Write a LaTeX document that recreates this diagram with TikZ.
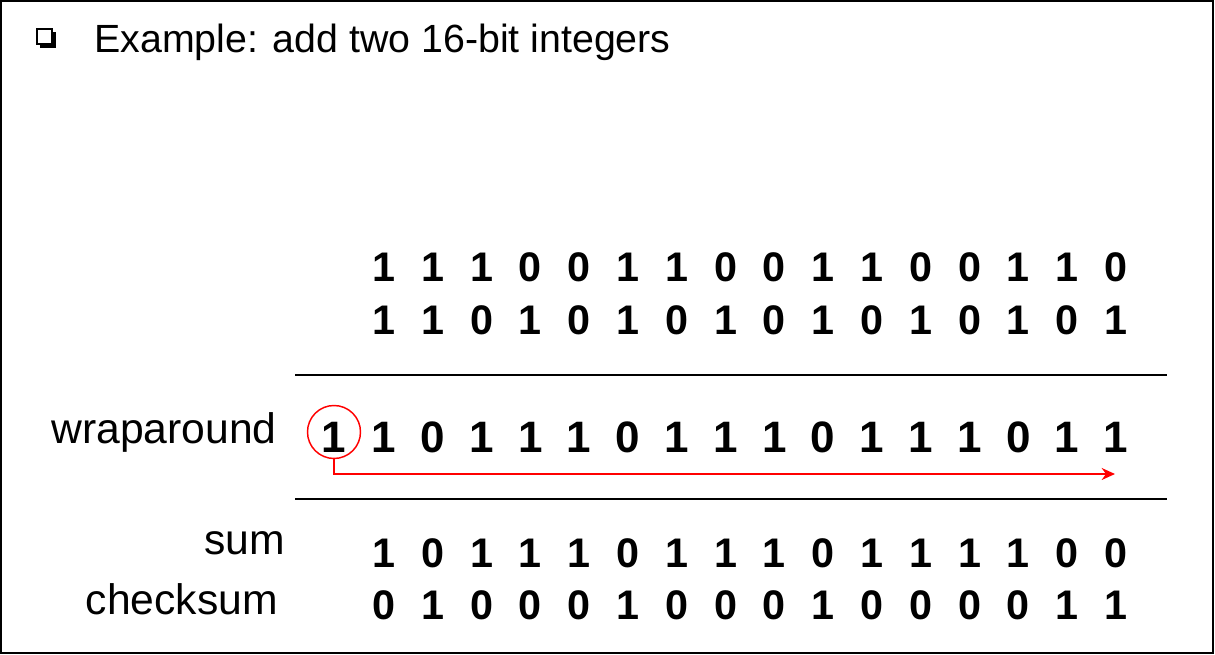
\documentclass[tikz,border=0pt]{standalone}
\usepackage{fontspec}
\setmainfont{Liberation Sans}
\usetikzlibrary{arrows.meta}
\tikzset{
  digit/.style={font=\fontsize{31}{31}\selectfont\bfseries, anchor=base, inner sep=0pt},
  wdigit/.style={font=\fontsize{33}{33}\selectfont\bfseries, anchor=base, inner sep=0pt},
  lbl/.style={font=\fontsize{32}{32}\selectfont, anchor=base east, inner sep=0pt},
  rulel/.style={line width=1.5pt},
  wrapl/.style={red, line width=1.1pt},
}
\begin{document}
\begin{tikzpicture}[x=0.75pt,y=-0.75pt]
\useasboundingbox (0,0) rectangle (1215,655);
\draw[line width=1.1pt] (1,1) rectangle (1213,653);
% bullet
\fill (40,32) rectangle (56,48);
\draw[fill=white, line width=0.9pt] (37,29) rectangle (52,44);
\node[font=\fontsize{29.5}{29.5}\selectfont, anchor=base west, inner sep=0pt] (title) at (94,53) {Example: add two 16-bit integers};
% labels
\node[lbl] (lwrap) at (277,444) {wraparound};
\node[lbl] (lsum) at (285,555) {sum};
\node[lbl] (lcheck) at (278,615) {checksum};
% rows
\foreach \d [count=\i from 0] in {1,1,1,0,0,1,1,0,0,1,1,0,0,1,1,0}
  \node[digit] (a\i) at (384+48.8*\i,282) {\d};
\foreach \d [count=\i from 0] in {1,1,0,1,0,1,0,1,0,1,0,1,0,1,0,1}
  \node[digit] (b\i) at (384+48.8*\i,335) {\d};
\foreach \d [count=\i from 0] in {1,0,1,1,1,0,1,1,1,0,1,1,1,0,1,1}
  \node[wdigit] (w\i) at (384+48.8*\i,453) {\d};
\node[wdigit] (carry) at (334,453) {1};
\foreach \d [count=\i from 0] in {1,0,1,1,1,0,1,1,1,0,1,1,1,1,0,0}
  \node[digit] (s\i) at (384+48.8*\i,568) {\d};
\foreach \d [count=\i from 0] in {0,1,0,0,0,1,0,0,0,1,0,0,0,0,1,1}
  \node[digit] (c\i) at (384+48.8*\i,620) {\d};
% rules
\coordinate (r1a) at (295,375); \coordinate (r1b) at (1167,375);
\coordinate (r2a) at (295,499); \coordinate (r2b) at (1167,499);
\draw[rulel] (r1a) -- (r1b);
\draw[rulel] (r2a) -- (r2b);
% wraparound
\node[circle, draw=red, line width=1.1pt, minimum size=39.75pt, inner sep=0pt] (circ) at (334,432) {};
\coordinate (tip) at (1115,474);
\draw[wrapl, -{Stealth[length=10pt,width=9pt]}] (circ.south) -- (circ.south |- tip) -- (tip);
\end{tikzpicture}
\end{document}
